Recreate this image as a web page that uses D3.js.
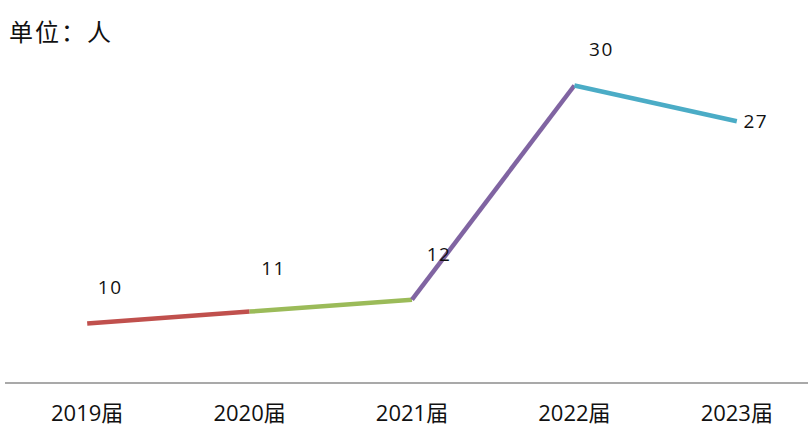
<!DOCTYPE html>
<html>
<head>
<meta charset="utf-8">
<script src="https://cdn.jsdelivr.net/npm/d3@7"></script>
<style>
  body { margin: 0; background: #fff; }
  svg { display: block; font-family: "Open Sans", "Noto Sans CJK SC", sans-serif; }
</style>
</head>
<body>
<div id="chart"></div>
<script>
// Data
const categories = ["2019届", "2020届", "2021届", "2022届", "2023届"];
const values = [10, 11, 12, 30, 27];
const segmentColors = ["#c0504d", "#9bbb59", "#8064a2", "#4bacc6"];
const unitLabel = "单位：人";

// label nudges (dx, dy) relative to each point
const labelOffsets = [[23, -36], [24, -43], [27, -45], [27, -36], [19, 0]];

const width = 808, height = 429;
const svg = d3.select("#chart").append("svg")
    .attr("width", width)
    .attr("height", height);

const x = d3.scaleBand().domain(categories).range([6, 818]);
const y = d3.scaleLinear().domain([5, 35]).range([383, 26]);
const cx = d => x(d) + x.bandwidth() / 2;

// axis baseline
svg.append("line")
    .attr("x1", 5).attr("x2", width)
    .attr("y1", y(5)).attr("y2", y(5))
    .attr("stroke", "#8c8c8c")
    .attr("stroke-width", 1.5);

// category labels
svg.selectAll("text.cat")
    .data(categories)
    .enter().append("text")
    .attr("class", "cat")
    .attr("x", d => cx(d))
    .attr("y", 421)
    .attr("text-anchor", "middle")
    .attr("font-size", 22)
    .attr("fill", "#111")
    .text(d => d);

// colored segments
const pts = categories.map((c, i) => [cx(c), y(values[i])]);
const line = d3.line();
svg.selectAll("path.seg")
    .data(d3.pairs(pts))
    .enter().append("path")
    .attr("class", "seg")
    .attr("d", d => line(d))
    .attr("fill", "none")
    .attr("stroke", (d, i) => segmentColors[i])
    .attr("stroke-width", 4.5)
    .attr("stroke-linecap", "butt")
    .attr("stroke-linejoin", "round");

// value labels
svg.selectAll("text.val")
    .data(values)
    .enter().append("text")
    .attr("class", "val")
    .attr("x", (d, i) => pts[i][0] + labelOffsets[i][0])
    .attr("y", (d, i) => pts[i][1] + labelOffsets[i][1])
    .attr("dy", "0.35em")
    .attr("text-anchor", "middle")
    .attr("font-size", 19)
    .attr("letter-spacing", 1.5)
    .attr("fill", "#111")
    .text(d => d);

// unit caption
svg.append("text")
    .attr("x", 9)
    .attr("y", 41)
    .attr("font-size", 24)
    .attr("letter-spacing", 2)
    .attr("fill", "#111")
    .attr("font-family", "Noto Sans CJK SC")
    .text(unitLabel);
</script>
</body>
</html>
